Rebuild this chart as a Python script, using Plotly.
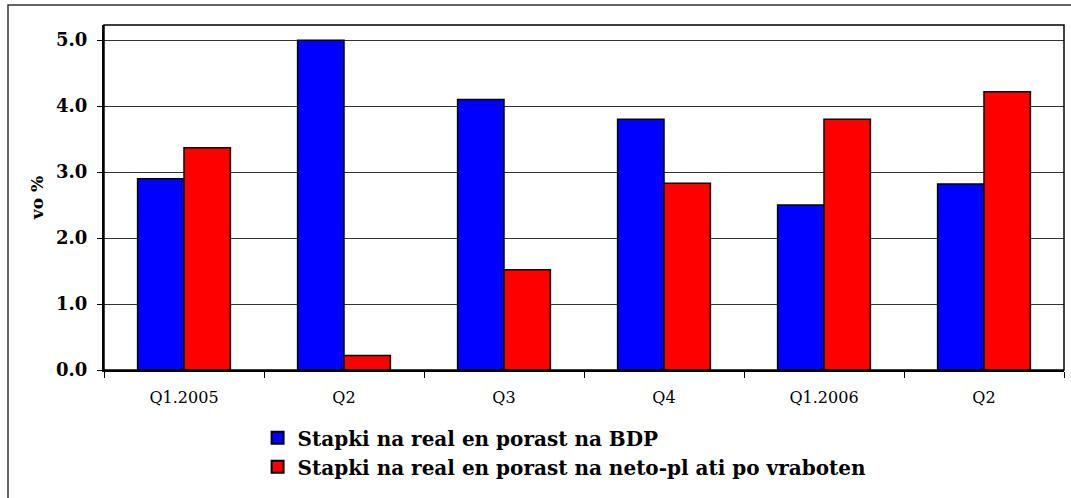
import plotly.graph_objects as go

category_ids = ["Q1.2005", "Q2.2005", "Q3.2005", "Q4.2005", "Q1.2006", "Q2.2006"]
tick_labels = ["Q1.2005", "Q2", "Q3", "Q4", "Q1.2006", "Q2"]
gdp_growth = [2.9, 5.0, 4.1, 3.8, 2.5, 2.82]
wage_growth = [3.37, 0.22, 1.52, 2.83, 3.8, 4.22]
series_names = ["Stapki na real en porast na BDP",
                "Stapki na real en porast na neto-pl ati po vraboten"]
y_ticks = [0, 1, 2, 3, 4, 5]

serif = "DejaVu Serif"

fig = go.Figure()
fig.add_trace(go.Bar(x=category_ids, y=gdp_growth, name=series_names[0],
                     marker=dict(color="#0000FF", line=dict(color="black", width=1.5))))
fig.add_trace(go.Bar(x=category_ids, y=wage_growth, name=series_names[1],
                     marker=dict(color="#FF0000", line=dict(color="black", width=1.5))))

fig.update_layout(
    width=1071, height=498,
    margin=dict(l=104, r=7, t=25, b=128, autoexpand=False),
    paper_bgcolor="white", plot_bgcolor="white",
    barmode="group", bargap=0.42, bargroupgap=0,
    font=dict(family=serif, color="black"),
    showlegend=True,
    legend=dict(x=0.16, y=-0.14, xanchor="left", yanchor="top",
                orientation="v", bgcolor="rgba(0,0,0,0)",
                font=dict(family=serif, size=20, color="black", weight="bold"),
                tracegroupgap=0, itemsizing="constant"),
    xaxis=dict(type="category", tickmode="array", tickvals=category_ids,
               ticktext=tick_labels, tickson="boundaries", ticks="outside",
               ticklen=6, tickcolor="black", ticklabelstandoff=12,
               showline=True, linecolor="black",
               linewidth=2, mirror=False, showgrid=False, automargin=False,
               tickfont=dict(family=serif, size=16, color="black")),
    yaxis=dict(range=[0, 5.23], tickvals=y_ticks,
               ticktext=[f"{v:.1f}" for v in y_ticks],
               ticks="outside", ticklen=5, tickcolor="black",
               ticklabelstandoff=6,
               showline=True, linecolor="black", linewidth=2,
               showgrid=True, gridcolor="#333333", gridwidth=1,
               zeroline=False, automargin=False,
               tickfont=dict(family=serif, size=18, color="black", weight="bold"),
               title=dict(text="vo %", standoff=8,
                          font=dict(family=serif, size=17, color="black", weight="bold"))),
    shapes=[
        dict(type="rect", xref="paper", yref="paper", x0=0, x1=1, y0=0, y1=1,
             line=dict(color="black", width=1.5), layer="above"),
        dict(type="rect", xref="paper", yref="paper", x0=-0.1, x1=1.05,
             y0=-0.45, y1=1.058, line=dict(color="#333333", width=1.5)),
    ],
)

fig.write_html("out.html", config={"displayModeBar": False},
               post_script="document.body.style.margin='0';")
